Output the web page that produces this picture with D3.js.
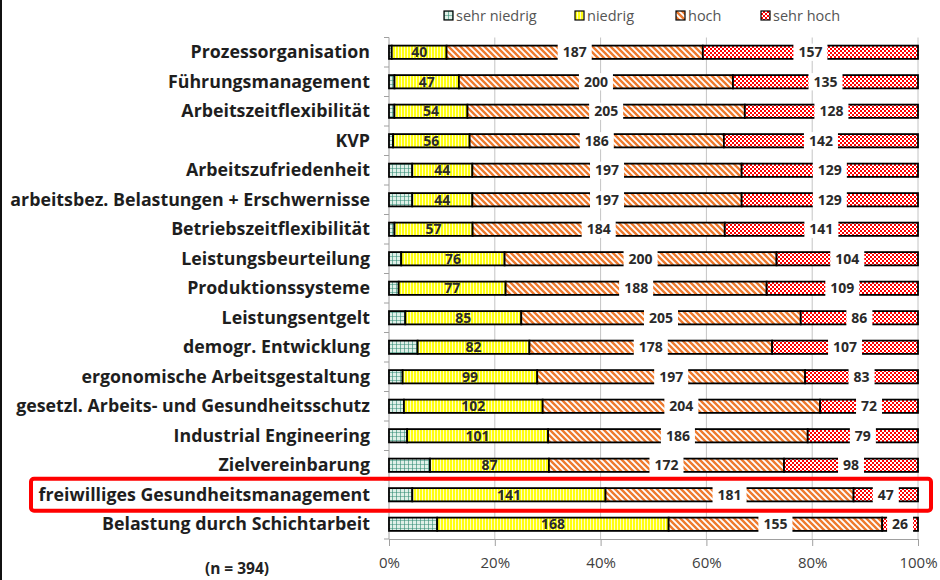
<!DOCTYPE html>
<html>
<head>
<meta charset="utf-8">
<script src="https://cdn.jsdelivr.net/npm/d3@7"></script>
<style>
  body { margin: 0; background: #fff; }
  text { font-family: "Open Sans", Lato, sans-serif; }
</style>
</head>
<body>
<script>
const categories = [
  'Prozessorganisation',
  'Führungsmanagement',
  'Arbeitszeitflexibilität',
  'KVP',
  'Arbeitszufriedenheit',
  'arbeitsbez. Belastungen + Erschwernisse',
  'Betriebszeitflexibilität',
  'Leistungsbeurteilung',
  'Produktionssysteme',
  'Leistungsentgelt',
  'demogr. Entwicklung',
  'ergonomische Arbeitsgestaltung',
  'gesetzl. Arbeits- und Gesundheitsschutz',
  'Industrial Engineering',
  'Zielvereinbarung',
  'freiwilliges Gesundheitsmanagement',
  'Belastung durch Schichtarbeit'
];
const keys = ['sehr niedrig', 'niedrig', 'hoch', 'sehr hoch'];

// sehr niedrig has no labels in the original
const sehrNiedrig = [2, 4, 4, 3, 17, 17, 4, 9, 7, 12, 21, 10, 11, 13, 30, 17, 35];
const niedrig = [40, 47, 54, 56, 44, 44, 57, 76, 77, 85, 82, 99, 102, 101, 87, 141, 168];
const hoch = [187, 200, 205, 186, 197, 197, 184, 200, 188, 205, 178, 197, 204, 186, 172, 181, 155];
const sehrHoch = [157, 135, 128, 142, 129, 129, 141, 104, 109, 86, 107, 83, 72, 79, 98, 47, 26];

const xTicks = [0, 0.2, 0.4, 0.6, 0.8, 1];
const highlight = 'freiwilliges Gesundheitsmanagement';

const w = 940;
const h = 580;

const svg = d3.select('body')
  .append('svg')
  .attr('width', w)
  .attr('height', h);

// fill patterns
const defs = svg.append('defs');

const pGreen = defs.append('pattern').attr('id', 'p0')
  .attr('patternUnits', 'userSpaceOnUse').attr('width', 4).attr('height', 4);
pGreen.append('rect').attr('width', 4).attr('height', 4).attr('fill', '#dff0e8');
pGreen.append('path').attr('d', 'M0,0H4M0,0V4').attr('stroke', '#2f8a72').attr('stroke-width', 1.2);

const pYellow = defs.append('pattern').attr('id', 'p1')
  .attr('patternUnits', 'userSpaceOnUse').attr('width', 3).attr('height', 4);
pYellow.append('rect').attr('width', 3).attr('height', 4).attr('fill', '#ffff10');
pYellow.append('rect').attr('x', 2).attr('width', 1).attr('height', 4).attr('fill', '#fffcc8');

const pOrange = defs.append('pattern').attr('id', 'p2')
  .attr('patternUnits', 'userSpaceOnUse').attr('width', 6).attr('height', 6);
pOrange.append('rect').attr('width', 6).attr('height', 6).attr('fill', '#fff');
pOrange.append('path').attr('d', 'M-1,-1L7,7M-4,2L4,10M2,-4L10,4')
  .attr('stroke', '#ee7a2e').attr('stroke-width', 2.4);

const pRed = defs.append('pattern').attr('id', 'p3')
  .attr('patternUnits', 'userSpaceOnUse').attr('width', 4).attr('height', 4);
pRed.append('rect').attr('width', 4).attr('height', 4).attr('fill', '#ff0000');
pRed.append('rect').attr('width', 2).attr('height', 2).attr('fill', '#fff');
pRed.append('rect').attr('x', 2).attr('y', 2).attr('width', 2).attr('height', 2).attr('fill', '#fff');

const table = categories.map((c, i) => ({
  cat: c,
  'sehr niedrig': sehrNiedrig[i],
  'niedrig': niedrig[i],
  'hoch': hoch[i],
  'sehr hoch': sehrHoch[i]
}));
const series = d3.stack().keys(keys).offset(d3.stackOffsetExpand)(table);

const x = d3.scaleLinear().domain([0, 1]).range([389, 918]);
const y = d3.scaleBand()
  .domain(categories)
  .range([37.5, 539])
  .paddingInner(0.55)
  .paddingOuter(0.275);

// grid
svg.append('g')
  .selectAll('line')
  .data(xTicks.slice(1))
  .enter()
  .append('line')
  .attr('x1', d => x(d)).attr('x2', d => x(d))
  .attr('y1', 37.5).attr('y2', 539)
  .attr('stroke', '#c4c4c4');

// left axis, ticks between the rows
const yBounds = d3.range(categories.length + 1).map(k => 37.5 + k * y.step());
const yAxis = svg.append('g');
yAxis.append('line')
  .attr('x1', 389).attr('x2', 389).attr('y1', 37.5).attr('y2', 539)
  .attr('stroke', '#a0a0a0');
yAxis.selectAll('.tk')
  .data(yBounds)
  .enter()
  .append('line')
  .attr('class', 'tk')
  .attr('x1', 384).attr('x2', 389)
  .attr('y1', d => d).attr('y2', d => d)
  .attr('stroke', '#a0a0a0');

yAxis.selectAll('.cat')
  .data(categories)
  .enter()
  .append('text')
  .attr('class', 'cat')
  .attr('x', 370)
  .attr('y', d => y(d) + y.bandwidth() / 2)
  .attr('dy', '0.35em')
  .attr('text-anchor', 'end')
  .attr('font-size', 17.8)
  .attr('font-weight', 'bold')
  .attr('fill', '#1e1e1e')
  .text(d => d);

// x axis
const xAxis = svg.append('g')
  .attr('transform', 'translate(0,539)')
  .call(d3.axisBottom(x).tickValues(xTicks).tickFormat(d3.format('.0%'))
    .tickSize(7).tickSizeOuter(0).tickPadding(11));
xAxis.select('.domain').attr('stroke', '#a0a0a0');
xAxis.selectAll('.tick line').attr('stroke', '#a0a0a0');
xAxis.selectAll('.tick text')
  .attr('font-family', '"Open Sans", sans-serif')
  .attr('font-size', 15)
  .attr('fill', '#404040');

// bars
const layer = svg.append('g')
  .selectAll('g')
  .data(series)
  .enter()
  .append('g')
  .attr('fill', (d, i) => `url(#p${i})`);

layer.selectAll('rect')
  .data(d => d)
  .enter()
  .append('rect')
  .attr('x', d => x(d[0]))
  .attr('y', d => y(d.data.cat))
  .attr('width', d => x(d[1]) - x(d[0]))
  .attr('height', y.bandwidth())
  .attr('stroke', '#000')
  .attr('stroke-width', 1.8);

// value labels (niedrig, hoch, sehr hoch)
const labels = svg.append('g');
series.slice(1).forEach((s, si) => {
  s.forEach(d => {
    const cx = (x(d[0]) + x(d[1])) / 2;
    const cy = y(d.data.cat) + y.bandwidth() / 2;
    const t = labels.append('text')
      .attr('x', cx)
      .attr('y', cy)
      .attr('dy', '0.36em')
      .attr('text-anchor', 'middle')
      .attr('font-family', '"Liberation Serif", serif')
      .attr('font-size', 14)
      .attr('font-weight', 'bold')
      .attr('fill', '#2a2a2a')
      .text(d.data[s.key]);
    if (si > 0) {
      const tw = t.node().getComputedTextLength();
      labels.insert('rect', () => t.node())
        .attr('x', cx - tw / 2 - 5)
        .attr('y', cy - y.bandwidth() / 2 - 2)
        .attr('width', tw + 10)
        .attr('height', y.bandwidth() + 4)
        .attr('fill', '#fff');
    }
  });
});

// legend
const legendX = [444, 575, 676, 761];
const legend = svg.append('g')
  .selectAll('g')
  .data(keys)
  .enter()
  .append('g')
  .attr('transform', (d, i) => `translate(${legendX[i]},11)`);
legend.append('rect')
  .attr('width', 9).attr('height', 9)
  .attr('fill', (d, i) => `url(#p${i})`)
  .attr('stroke', '#000').attr('stroke-width', 1.2);
legend.append('text')
  .attr('x', 12).attr('y', 5)
  .attr('dy', '0.35em')
  .attr('font-size', 14.5)
  .attr('fill', '#555')
  .text(d => d);

// n
svg.append('text')
  .attr('x', 237).attr('y', 569)
  .attr('dy', '0.35em')
  .attr('text-anchor', 'middle')
  .attr('font-size', 15.5)
  .attr('font-weight', 'bold')
  .attr('fill', '#222')
  .text('(n = 394)');

// highlight box
svg.append('rect')
  .attr('x', 31)
  .attr('y', y(highlight) + y.bandwidth() / 2 - 16)
  .attr('width', 900)
  .attr('height', 32)
  .attr('rx', 3)
  .attr('fill', 'none')
  .attr('stroke', '#ff0000')
  .attr('stroke-width', 4);

// left frame edge
svg.append('rect')
  .attr('x', 0).attr('y', 0)
  .attr('width', 2).attr('height', h)
  .attr('fill', '#111');
</script>
</body>
</html>
